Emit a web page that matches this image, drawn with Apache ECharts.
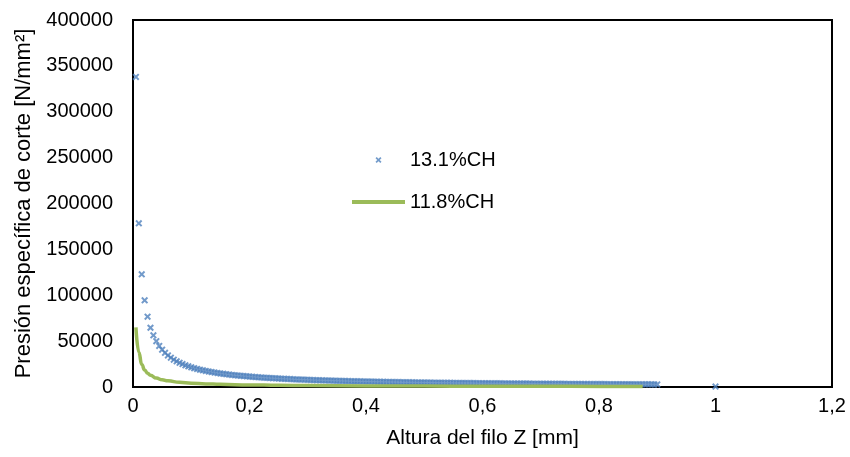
<!DOCTYPE html>
<html>
<head>
<meta charset="utf-8">
<script src="https://cdn.jsdelivr.net/npm/echarts@6/dist/echarts.min.js"></script>
<style>
  html, body { margin: 0; padding: 0; background: #fff; }
  #chart { width: 850px; height: 457px; }
</style>
</head>
<body>
<div id="chart"></div>
<script>
// 13.1%CH: puntos cada 0,005 mm desde 0,005 hasta 0,9
const zStep = 0.005
const ch131 = [
  338000, 178400, 122800, 94500, 76600, 64600, 56300, 49900, 44770, 40640,
  37220, 34360, 31920, 29820, 27980, 26370, 24940, 23660, 22510, 21480,
  20530, 19670, 18890, 18160, 17490, 16870, 16300, 15760, 15260, 14790,
  14350, 13940, 13550, 13180, 12830, 12510, 12190, 11900, 11620, 11350,
  11100, 10850, 10620, 10400, 10190, 9980, 9790, 9600, 9420, 9240,
  9070, 8910, 8750, 8600, 8450, 8310, 8170, 8050, 7930, 7820,
  7700, 7590, 7480, 7370, 7270, 7170, 7070, 6970, 6870, 6780,
  6690, 6600, 6520, 6440, 6360, 6280, 6210, 6140, 6070, 6000,
  5930, 5860, 5800, 5740, 5680, 5620, 5560, 5500, 5440, 5380,
  5330, 5280, 5230, 5180, 5130, 5080, 5030, 4980, 4930, 4890,
  4840, 4800, 4760, 4720, 4680, 4640, 4600, 4560, 4520, 4480,
  4440, 4405, 4370, 4336, 4302, 4269, 4236, 4204, 4167, 4131,
  4101, 4071, 4042, 4013, 3984, 3955, 3927, 3899, 3869, 3838,
  3812, 3786, 3760, 3734, 3709, 3684, 3659, 3634, 3610, 3585,
  3562, 3539, 3516, 3494, 3472, 3450, 3428, 3407, 3386, 3365,
  3344, 3324, 3304, 3284, 3265, 3245, 3226, 3207, 3189, 3170,
  3152, 3135, 3117, 3100, 3083, 3066, 3049, 3032, 3016, 2999,
  2983, 2967, 2951, 2936, 2921, 2905, 2890, 2875, 2860, 2845
]
// punto suelto en z = 1
const ch131ExtraZ = [1]
const ch131ExtraP = [500]

// 11.8%CH
const ch118Z = [0.005, 0.01, 0.015, 0.02, 0.025, 0.03, 0.04, 0.05, 0.06, 0.08,
  0.1, 0.125, 0.15, 0.2, 0.25, 0.3, 0.4, 0.5, 0.6, 0.7, 0.8, 0.875]
const ch118P = [65000, 38000, 24500, 18500, 15000, 12700, 9700, 7900, 6700, 5100,
  4200, 3400, 2900, 2250, 1850, 1570, 1210, 990, 840, 730, 650, 600]

const xTicks = { min: 0, max: 1.2, interval: 0.2 }
const yTicks = { min: 0, max: 400000, interval: 50000 }

const font = "'Liberation Sans', Arial, sans-serif"
const blue = '#4F81BD'
const green = '#9BBB59'
const xMark = 'path://M2,0L5,3L8,0L10,2L7,5L10,8L8,10L5,7L2,10L0,8L3,5L0,2Z'

const scatterData = ch131.map((p, i) => [(i + 1) * zStep, p])
ch131ExtraZ.forEach((z, i) => scatterData.push([z, ch131ExtraP[i]]))
const lineData = ch118Z.map((z, i) => [z, ch118P[i]])

const chart = echarts.init(document.getElementById('chart'))
chart.setOption({
  animation: false,
  textStyle: { fontFamily: font, color: '#000' },
  grid: {
    left: 133, right: 18, top: 20, bottom: 70,
    show: true, borderColor: '#000', borderWidth: 2
  },
  legend: {
    orient: 'vertical',
    left: 347,
    top: 145,
    itemWidth: 53,
    itemHeight: 6,
    itemGap: 22,
    textStyle: { fontFamily: font, fontSize: 20, color: '#000' },
    data: [
      { name: '13.1%CH' },
      { name: '11.8%CH', icon: 'path://M0,0L53,0L53,4L0,4Z', itemStyle: { color: green } }
    ]
  },
  xAxis: {
    type: 'value',
    min: xTicks.min, max: xTicks.max, interval: xTicks.interval,
    name: 'Altura del filo Z [mm]',
    nameLocation: 'middle',
    nameGap: 41,
    nameTextStyle: { fontFamily: font, fontSize: 21, color: '#000' },
    axisLine: { show: false },
    axisTick: { show: false },
    splitLine: { show: false },
    axisLabel: {
      fontFamily: font, fontSize: 20, color: '#000', margin: 9,
      formatter: v => String(Math.round(v * 10) / 10).replace('.', ',')
    }
  },
  yAxis: {
    type: 'value',
    min: yTicks.min, max: yTicks.max, interval: yTicks.interval,
    name: 'Presión específica de corte [N/mm²]',
    nameLocation: 'middle',
    nameGap: 94,
    nameTextStyle: { fontFamily: font, fontSize: 22, color: '#000' },
    axisLine: { show: false },
    axisTick: { show: false },
    splitLine: { show: false },
    axisLabel: {
      fontFamily: font, fontSize: 20, color: '#000', margin: 20,
      formatter: v => String(v)
    }
  },
  series: [
    {
      name: '13.1%CH',
      type: 'scatter',
      symbol: xMark,
      symbolSize: 7,
      itemStyle: { color: blue },
      data: scatterData
    },
    {
      name: '11.8%CH',
      type: 'line',
      symbol: 'none',
      smooth: true,
      smoothMonotone: 'x',
      lineStyle: { color: green, width: 3.5 },
      itemStyle: { color: green },
      data: lineData
    }
  ]
})
</script>
</body>
</html>
